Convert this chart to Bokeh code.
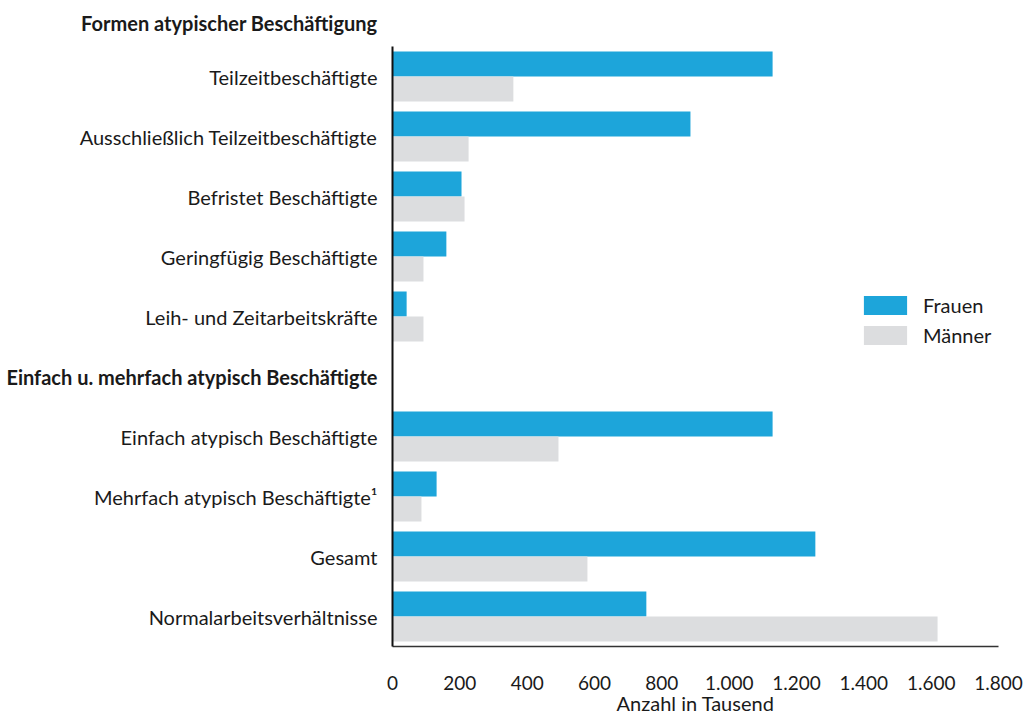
from bokeh.plotting import figure
from bokeh.layouts import row
from bokeh.models import ColumnDataSource, Range1d, FixedTicker, Legend, LegendItem
from bokeh.core.properties import value
from bokeh.transform import dodge
from bokeh.embed import file_html
from bokeh.resources import INLINE

# ---- data ----
header1 = "Formen atypischer Beschäftigung"
header2 = "Einfach u. mehrfach atypisch Beschäftigte"
categories = [
    "Teilzeitbeschäftigte",
    "Ausschließlich Teilzeitbeschäftigte",
    "Befristet Beschäftigte",
    "Geringfügig Beschäftigte",
    "Leih- und Zeitarbeitskräfte",
    header2,
    "Einfach atypisch Beschäftigte",
    "Mehrfach atypisch Beschäftigte¹",
    "Gesamt",
    "Normalarbeitsverhältnisse",
]
frauen = [1129, 885, 205, 160, 42, None, 1129, 131, 1256, 754]
maenner = [359, 226, 214, 92, 92, None, 493, 86, 579, 1619]
x_ticks = [0, 200, 400, 600, 800, 1000, 1200, 1400, 1600, 1800]
x_tick_labels = ["0", "200", "400", "600", "800", "1.000", "1.200", "1.400", "1.600", "1.800"]
series_names = ["Frauen", "Männer"]
x_title = "Anzahl in Tausend"

# ---- style / layout ----
BLUE = "#1DA5DA"
GREY = "#DCDDDF"
TXT = "#1a1a1a"
FONT = "Lato"
FS = "20px"
FS_TICK = "19px"
H = 717
LEFT_W = 384
MAIN_W = 1024 - LEFT_W
BOTTOM = 71
TOP_GAP = 46          # px between figure top and first row band
n = len(categories)
frame_h = H - BOTTOM
row_px = (frame_h - TOP_GAP) / n
y_top = -0.5 - TOP_GAP / row_px
header1_y = -0.5 - (TOP_GAP - 22) / row_px
yr = Range1d(n - 0.5, y_top)

rows = [i for i, c in enumerate(categories) if c != header2]
src = ColumnDataSource(dict(
    pos=rows,
    frauen=[frauen[i] for i in rows],
    maenner=[maenner[i] for i in rows],
))

# ---- left label column ----
lab = figure(width=LEFT_W, height=H, x_range=Range1d(0, LEFT_W), y_range=yr,
             output_backend="svg", toolbar_location=None,
             x_axis_location=None, y_axis_location=None,
             min_border_left=0, min_border_right=0, min_border_top=0,
             min_border_bottom=BOTTOM)
lab.grid.visible = False
lab.outline_line_color = None
LABEL_RIGHT = LEFT_W - 7
lab_src = ColumnDataSource(dict(x=[LABEL_RIGHT] * len(rows), y=rows,
                                text=[categories[i] for i in rows]))
lab.text(x="x", y="y", text="text", source=lab_src, text_align="right",
         text_baseline="middle", text_font=value(FONT), text_font_size=FS,
         text_color=TXT)
head_src = ColumnDataSource(dict(x=[LABEL_RIGHT] * 2,
                                 y=[header1_y, categories.index(header2)],
                                 text=[header1, header2]))
lab.text(x="x", y="y", text="text", source=head_src, text_align="right",
         text_baseline="middle", text_font=value(FONT), text_font_size=FS,
         text_font_style="bold", text_color=TXT)

# ---- main chart ----
p = figure(width=MAIN_W, height=H, x_range=Range1d(0, 1800), y_range=yr,
           output_backend="svg", toolbar_location=None,
           min_border_left=8, min_border_right=26,
           min_border_top=0, min_border_bottom=BOTTOM)
p.grid.visible = False
p.outline_line_color = None

rf = p.hbar(y=dodge("pos", -0.208, range=p.y_range), left=0, right="frauen",
            height=0.415, source=src, fill_color=BLUE, line_color=None)
rm = p.hbar(y=dodge("pos", 0.208, range=p.y_range), left=0, right="maenner",
            height=0.415, source=src, fill_color=GREY, line_color=None)

xa = p.xaxis[0]
xa.ticker = FixedTicker(ticks=x_ticks)
xa.major_label_overrides = {t: l for t, l in zip(x_ticks, x_tick_labels)}
xa.major_tick_line_color = None
xa.minor_tick_line_color = None
xa.major_tick_out = 0
xa.major_tick_in = 0
xa.axis_line_color = "#333333"
xa.axis_line_width = 1.5
xa.major_label_standoff = 29
xa.major_label_text_font = FONT
xa.major_label_text_font_size = FS_TICK
xa.major_label_text_color = TXT
xa.axis_label = x_title
xa.axis_label_text_font = FONT
xa.axis_label_text_font_size = FS
xa.axis_label_text_font_style = "normal"
xa.axis_label_text_color = TXT
xa.axis_label_standoff = -2

ya = p.yaxis[0]
ya.ticker = FixedTicker(ticks=[])
ya.bounds = (-0.5, n - 0.5)
ya.major_tick_line_color = None
ya.minor_tick_line_color = None
ya.major_tick_out = 0
ya.major_tick_in = 0
ya.major_label_standoff = 0
ya.axis_line_color = "#111111"
ya.axis_line_width = 2

legend = Legend(items=[LegendItem(label=series_names[0], renderers=[rf]),
                       LegendItem(label=series_names[1], renderers=[rm])],
                location=(466, 299), orientation="vertical",
                glyph_width=54, glyph_height=24, spacing=6, padding=0, margin=0,
                label_standoff=11, border_line_color=None,
                background_fill_alpha=0,
                label_text_font=FONT, label_text_font_size=FS,
                label_text_color=TXT)
p.add_layout(legend)

layout = row(lab, p, spacing=0)
open("out.html", "w").write(file_html(layout, INLINE))
